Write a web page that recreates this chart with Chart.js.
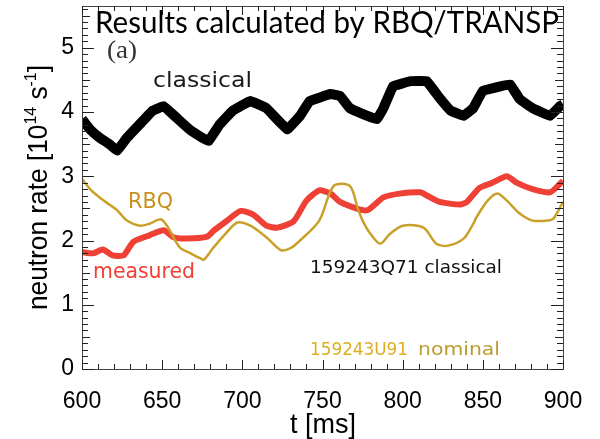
<!DOCTYPE html>
<html>
<head>
<meta charset="utf-8">
<script src="https://cdn.jsdelivr.net/npm/chart.js@4.4.0/dist/chart.umd.min.js"></script>
<style>
html, body { margin: 0; padding: 0; background: #ffffff; }
</style>
</head>
<body>
<canvas id="chart" width="600" height="439"></canvas>
<script>
const xTicks = [600, 650, 700, 750, 800, 850, 900];
const yTicks = [0, 1, 2, 3, 4, 5];

// 159243Q71 classical (TRANSP)
const classicalT = [600, 605, 611, 617, 622, 628, 636, 644, 651, 659, 667, 675, 679, 686, 694, 705, 715, 728, 736, 742, 755, 761, 767, 778, 784, 788, 794, 805, 815, 823, 830, 838, 844, 850, 861, 867, 873, 881, 892, 898, 900];
const classicalV = [3.89, 3.73, 3.60, 3.50, 3.40, 3.60, 3.81, 4.02, 4.09, 3.91, 3.73, 3.60, 3.55, 3.81, 4.02, 4.17, 4.06, 3.73, 3.94, 4.17, 4.28, 4.25, 4.06, 3.94, 3.89, 4.06, 4.40, 4.48, 4.48, 4.22, 4.02, 3.94, 4.06, 4.33, 4.40, 4.43, 4.20, 4.06, 3.94, 4.09, 4.12];

// measured
const measuredT = [600, 607, 613, 619, 626, 632, 642, 651, 657, 665, 678, 682, 690, 699, 707, 715, 722, 732, 740, 748, 755, 761, 771, 778, 788, 798, 811, 815, 823, 836, 840, 848, 856, 865, 871, 881, 892, 898, 900];
const measuredV = [1.82, 1.80, 1.86, 1.77, 1.77, 1.98, 2.08, 2.16, 2.05, 2.03, 2.06, 2.15, 2.30, 2.46, 2.40, 2.23, 2.20, 2.30, 2.62, 2.78, 2.73, 2.60, 2.50, 2.47, 2.67, 2.73, 2.75, 2.70, 2.60, 2.56, 2.60, 2.82, 2.90, 3.00, 2.90, 2.80, 2.75, 2.88, 2.93];

// 159243U91 nominal (RBQ)
const rbqT = [600, 605, 611, 617, 622, 628, 636, 642, 649, 653, 661, 667, 674, 676, 682, 690, 697, 705, 715, 724, 730, 736, 748, 757, 767, 772, 775, 780, 786, 792, 800, 813, 821, 828, 838, 844, 846, 853, 859, 865, 873, 881, 890, 894, 900];
const rbqV = [2.96, 2.80, 2.67, 2.56, 2.47, 2.31, 2.23, 2.26, 2.33, 2.23, 1.89, 1.81, 1.72, 1.70, 1.89, 2.12, 2.28, 2.23, 2.05, 1.85, 1.88, 2.00, 2.31, 2.85, 2.85, 2.50, 2.31, 2.10, 1.95, 2.10, 2.23, 2.20, 1.95, 1.92, 2.03, 2.26, 2.36, 2.62, 2.73, 2.62, 2.42, 2.31, 2.31, 2.34, 2.60];

const colBlack = '#000000';
const colRed = '#ee4035';
const colGold = '#c9a12a';

const toPoints = (ts, vs) => ts.map((t, i) => ({ x: t, y: vs[i] }));

// text squeezed/stretched to the width it has in the picture
const drawFitted = (ctx, text, x, y, width, size, family, color) => {
    ctx.save();
    ctx.font = `${size}px ${family}`;
    const w = ctx.measureText(text).width;
    ctx.translate(x, y);
    ctx.scale(width / w, 1);
    ctx.fillStyle = color;
    ctx.textAlign = 'left';
    ctx.textBaseline = 'alphabetic';
    ctx.fillText(text, 0, 0);
    ctx.restore();
};

const frame = {
    id: 'frame',
    afterDraw(chart) {
        const { ctx, chartArea: a, scales } = chart;
        const xs = scales.x, ys = scales.y;
        ctx.save();
        ctx.strokeStyle = '#444444';
        ctx.lineWidth = 1;
        ctx.strokeRect(a.left + 0.5, a.top + 0.5, a.right - a.left, a.bottom - a.top);

        // inward ticks on all four sides (IDL style)
        ctx.fillStyle = '#222222';
        const L = Math.round(a.left), R = Math.round(a.right), T = Math.round(a.top), B = Math.round(a.bottom);
        for (let t = xTicks[0]; t <= xTicks[xTicks.length - 1]; t += 10) {
            const px = Math.round(xs.getPixelForValue(t));
            const len = t % 50 === 0 ? 9 : 5;
            ctx.fillRect(px, B - len, 1, len);
            ctx.fillRect(px, T, 1, len);
        }
        for (let i = 0; i <= 56; i++) {
            const py = Math.round(ys.getPixelForValue(i / 10));
            const len = i % 10 === 0 ? 12 : (i % 5 === 0 ? 8 : 6);
            ctx.fillRect(L, py, len, 1);
            ctx.fillRect(R - len, py, len, 1);
        }

        // title
        drawFitted(ctx, 'Results calculated by RBQ/TRANSP', 95, 33, 464, 30, 'Lato', '#000000');
        drawFitted(ctx, '(a)', 107, 58, 30, 26, '"Liberation Serif"', '#333333');

        // curve labels
        drawFitted(ctx, 'classical', 153, 87, 99, 22, '"DejaVu Sans"', '#1a1a1a');
        drawFitted(ctx, 'RBQ', 128, 208, 45, 21, '"DejaVu Sans"', '#c8901a');
        drawFitted(ctx, 'measured', 93, 278, 102, 21, '"DejaVu Sans"', colRed);
        drawFitted(ctx, '159243Q71 classical', 310, 273, 192, 18, '"DejaVu Sans"', '#111111');
        drawFitted(ctx, '159243U91', 310, 355, 98, 18, '"DejaVu Sans"', '#dfae1e');
        drawFitted(ctx, 'nominal', 418, 355, 82, 18, '"DejaVu Sans"', '#bb9c2c');

        // x title
        drawFitted(ctx, 't [ms]', 290, 433, 66, 28, '"Liberation Sans"', '#000000');

        // y title with superscripts, rotated
        ctx.translate(47, 310);
        ctx.rotate(-Math.PI / 2);
        const parts = [['neutron rate [10', 28, 0], ['14', 17, -11], [' s', 28, 0], ['-1', 17, -11], [']', 28, 0]];
        let total = 0;
        parts.forEach(p => { ctx.font = `${p[1]}px "Liberation Sans"`; total += ctx.measureText(p[0]).width; });
        ctx.scale(245 / total, 1);
        ctx.fillStyle = '#000000';
        ctx.textBaseline = 'alphabetic';
        let pos = 0;
        parts.forEach(p => {
            ctx.font = `${p[1]}px "Liberation Sans"`;
            ctx.fillText(p[0], pos, p[2]);
            pos += ctx.measureText(p[0]).width;
        });
        ctx.restore();
    }
};

new Chart(document.getElementById('chart').getContext('2d'), {
    type: 'scatter',
    data: {
        datasets: [{
            label: 'RBQ',
            data: toPoints(rbqT, rbqV),
            showLine: true,
            borderColor: colGold,
            borderWidth: 2.5,
            tension: 0.3,
            pointRadius: 0
        }, {
            label: 'measured',
            data: toPoints(measuredT, measuredV),
            showLine: true,
            borderColor: colRed,
            borderWidth: 6,
            tension: 0.2,
            pointRadius: 0
        }, {
            label: 'classical',
            data: toPoints(classicalT, classicalV),
            showLine: true,
            borderColor: colBlack,
            borderWidth: 10,
            borderJoinStyle: 'miter',
            tension: 0.05,
            pointRadius: 0
        }]
    },
    options: {
        responsive: false,
        animation: false,
        layout: { padding: { top: 6, right: 37, left: 0, bottom: 0 } },
        scales: {
            x: {
                type: 'linear',
                min: 600,
                max: 900,
                afterBuildTicks: (scale) => { scale.ticks = xTicks.map(v => ({ value: v })); },
                afterFit: (scale) => { scale.height = 70; scale.paddingLeft = 0; scale.paddingRight = 0; },
                ticks: {
                    color: '#000000',
                    padding: 19,
                    maxRotation: 0,
                    font: { family: '"Liberation Sans"', size: 23 }
                },
                grid: { display: false, drawTicks: false },
                border: { display: false }
            },
            y: {
                min: 0,
                max: 5.65,
                afterBuildTicks: (scale) => { scale.ticks = yTicks.map(v => ({ value: v })); },
                afterFit: (scale) => { scale.width = 82; scale.paddingTop = 0; scale.paddingBottom = 0; },
                ticks: {
                    color: '#000000',
                    padding: 8,
                    font: { family: '"Liberation Sans"', size: 23 }
                },
                grid: { display: false, drawTicks: false },
                border: { display: false }
            }
        },
        plugins: {
            legend: { display: false },
            tooltip: { enabled: false }
        }
    },
    plugins: [frame]
});
</script>
</body>
</html>
